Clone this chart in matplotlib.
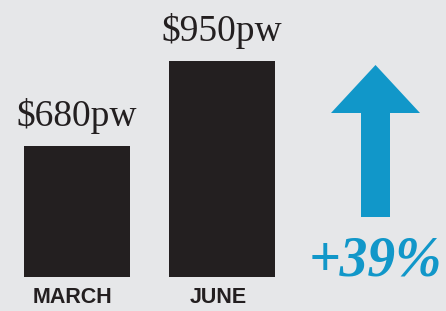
import matplotlib
matplotlib.use("Agg")
import matplotlib.pyplot as plt
import matplotlib.transforms as mtransforms
from matplotlib.patches import Polygon

# data
months = ["MARCH", "JUNE"]
rent = [680, 950]
rent_labels = ["$680pw", "$950pw"]
change_label = "+39%"

bg = "#e6e7e9"
bar_col = "#231f20"
blue = "#1197c9"

fig = plt.figure(figsize=(4.46, 3.11), dpi=100, facecolor=bg)
ax = fig.add_axes([0, 34 / 311, 1, 277 / 311])
ax.set_facecolor(bg)

x = range(len(months))
bars = ax.bar(x, rent, width=106 / 145, color=bar_col)
ax.set_xlim(-77 / 145, 369 / 145)
ax.set_ylim(264, 1143)

for b, lab in zip(bars, rent_labels):
    ax.annotate(lab, (b.get_x() + b.get_width() / 2, b.get_height()),
                xytext=(0, 14), textcoords="offset points",
                ha="center", va="baseline", fontsize=27,
                family="Liberation Serif", color=bar_col)

ax.set_xticks(list(x))
ax.set_xticklabels(months, fontsize=15.5, fontweight="bold",
                   family="Liberation Sans", color=bar_col)
ax.tick_params(axis="x", length=0, pad=7)
ax.tick_params(axis="y", left=False, labelleft=False)
shift = mtransforms.ScaledTranslation(-4 / 100, 0, fig.dpi_scale_trans)
for t in ax.get_xticklabels():
    t.set_transform(t.get_transform() + shift)
for s in ax.spines.values():
    s.set_visible(False)

# up arrow (pixel layout converted to figure fraction)
W, H = 446, 311
pts = [(375.5, 65), (420, 113), (390, 113), (390, 217),
       (361, 217), (361, 113), (331, 113)]
arrow = Polygon([(px / W, (H - py) / H) for px, py in pts],
                closed=True, facecolor=blue, edgecolor="none",
                transform=fig.transFigure)
fig.patches.append(arrow)

fig.text(375 / W, (H - 276) / H, change_label, ha="center", va="baseline",
         fontsize=40, fontweight="bold", fontstyle="italic",
         family="Liberation Serif", color=blue)

fig.savefig("out.png", dpi=100, facecolor=bg)
